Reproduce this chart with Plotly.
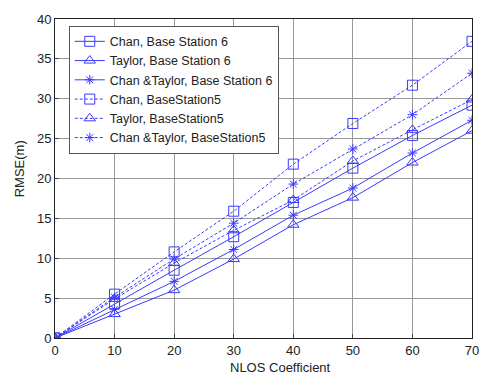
import plotly.graph_objects as go

nlos = [0, 10, 20, 30, 40, 50, 60, 70]
chan_bs6 = [0, 4.3, 8.5, 12.7, 17.0, 21.3, 25.4, 29.2]
taylor_bs6 = [0, 3.0, 6.0, 9.9, 14.2, 17.6, 22.0, 26.0]
ct_bs6 = [0, 3.6, 7.1, 11.1, 15.4, 18.8, 23.2, 27.3]
chan_bs5 = [0, 5.5, 10.8, 15.9, 21.8, 26.9, 31.7, 37.2]
taylor_bs5 = [0, 4.9, 9.4, 13.5, 17.3, 22.2, 26.1, 29.9]
ct_bs5 = [0, 5.1, 9.9, 14.4, 19.3, 23.7, 28.0, 33.2]

names = ["Chan, Base Station 6", "Taylor, Base Station 6", "Chan &Taylor, Base Station 6",
         "Chan, BaseStation5", "Taylor, BaseStation5", "Chan &Taylor, BaseStation5"]
series = [chan_bs6, taylor_bs6, ct_bs6, chan_bs5, taylor_bs5, ct_bs5]
symbols = ["square-open", "triangle-up-open", "asterisk-open"] * 2
sizes = [10, 10, 8] * 2
dashes = ["solid"] * 3 + ["3px,2px"] * 3

blue = "#3a3aff"
fig = go.Figure()
for n, s, sym, sz, d in zip(names, series, symbols, sizes, dashes):
    fig.add_trace(go.Scatter(
        x=nlos, y=s, name=n, mode="lines+markers",
        line=dict(color=blue, width=1, dash=d),
        marker=dict(symbol=sym, size=sz, color=blue, line=dict(color=blue, width=1)),
    ))

axis_common = dict(
    showgrid=True, gridcolor="#999999", gridwidth=1,
    showline=True, linecolor="#222", linewidth=1, mirror=True,
    ticks="inside", ticklen=4, tickcolor="#444",
    zeroline=False,
    tickfont=dict(family="Liberation Sans, Arial", size=13, color="#222"),
)
fig.update_xaxes(range=[0, 70], dtick=10, tick0=0, **axis_common)
fig.update_yaxes(range=[0, 40], dtick=5, tick0=0, **axis_common)

fig.update_layout(
    width=491, height=376,
    margin=dict(l=55, r=14, t=12, b=38),
    plot_bgcolor="white", paper_bgcolor="white",
    font=dict(family="Liberation Sans, Arial", size=13, color="#222"),
    showlegend=True,
    legend=dict(x=0.033, y=0.979, xanchor="left", yanchor="top",
                bgcolor="white", bordercolor="#555", borderwidth=1,
                font=dict(size=12.5, color="#222"), tracegroupgap=0),
    annotations=[
        dict(text="NLOS Coefficient", xref="paper", yref="paper", x=0.54, y=-0.062,
             xanchor="center", yanchor="top", showarrow=False,
             font=dict(size=13, color="#222")),
        dict(text="RMSE(m)", xref="paper", yref="paper", x=-0.083, y=0.53,
             xanchor="center", yanchor="middle", showarrow=False, textangle=-90,
             font=dict(size=13, color="#222")),
    ],
)

fig.write_html("out.html", config={"displayModeBar": False},
               post_script="document.body.style.margin='0';document.body.style.overflow='hidden';")
